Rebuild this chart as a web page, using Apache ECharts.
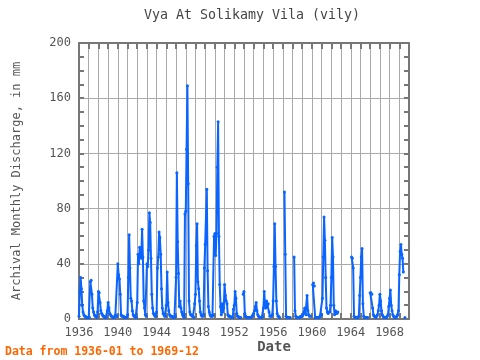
<!DOCTYPE html>
<html><head><meta charset="utf-8">
<script src="https://cdn.jsdelivr.net/npm/echarts@6/dist/echarts.min.js"></script>
<style>html,body{margin:0;padding:0;background:#fff}#c{width:480px;height:360px}</style>
</head><body><div id="c"></div>
<script>
const titleText = "Vya At Solikamy Vila (vily)";
const yAxisName = "Archival Monthly Discharge, in mm";
const xAxisName = "Date";
const footText = "Data from 1936-01 to 1969-12";
const startYear = 1936;
const xLabelYears = [1936, 1940, 1944, 1948, 1952, 1956, 1960, 1964, 1968];
const yTicks = [0, 40, 80, 120, 160, 200];
// monthly discharge (mm), Jan..Dec, one row per year; null = missing
const discharge = [
  2, 20, 30, 22, 10, 5, 3, 2, 2, 1, 1, 1,            // 1936
  1, 1, 27, 28, 18, 8, 5, 3, 2, 2, 1, 5,             // 1937
  20, 19, 12, 6, 4, 3, 2, 2, 1, 1, 1, 6,             // 1938
  12, 8, 4, 3, 2, 2, 1, 1, 1, 3, 2, 2,               // 1939
  40, 32, 29, 18, 3, 2, 2, 2, 1, 1, 1, 1,            // 1940
  3, 30, 61, 37, 15, 13, 6, 3, 2, 2, 1, 1,           // 1941
  12, 47, 40, 52, 46, 44, 65, 45, 13, 8, 3, 2,       // 1942
  40, 38, 50, 77, 70, 44, 18, 8, 4, 3, 2, 2,         // 1943
  5, 37, 45, 63, 59, 47, 22, 8, 4, 3, 2, 2,          // 1944
  10, 34, 12, 6, 3, 2, 2, 2, 1, 1, 1, 2,             // 1945
  30, 106, 56, 33, 9, 13, 8, 5, 3, 2, 1, 76,         // 1946
  78, 123, 169, 98, 13, 5, 3, 3, 2, 2, 1, 11,        // 1947
  18, 53, 69, 27, 22, 13, 5, 3, 2, 2, 3, 37,         // 1948
  54, 55, 94, 35, 9, 5, 3, 2, 2, 2, 3, 60,           // 1949
  62, 46, 62, 110, 143, 60, 25, 9, 3, 11, 5, 8,      // 1950
  25, 17, 13, 11, 3, 2, 2, 2, 1, 1, 1, 7,            // 1951
  10, 20, 15, 4, 2, 2, 1, 1, 1, null, null, 18,      // 1952
  20, 4, 2, 1, 1, 1, 1, 1, 1, 1, 2, 3,               // 1953
  4, 6, 9, 12, 6, 3, 2, 1, 1, 1, 1, 2,               // 1954
  8, 20, 11, 8, 13, 10, 11, 5, 2, 2, 2, 3,           // 1955
  13, 38, 69, 38, 13, 4, 2, 2, 1, null, null, null,  // 1956
  null, null, 92, 47, 2, 1, 1, 1, 1, 1, null, null,  // 1957
  null, null, 45, 6, 2, 1, 1, 1, 1, 1, 2, 2,         // 1958
  2, 3, 5, 8, 4, 3, 17, 6, 3, 2, 2, null,            // 1959
  null, 25, 26, 24, 1, 1, 1, 1, 1, 1, 2, 3,          // 1960
  3, 15, 45, 74, 57, 30, 8, 5, 4, 5, 5, 10,          // 1961
  30, 59, 45, 10, 3, 6, 5, 4, 5, null, null, null,   // 1962
  null, null, null, null, null, null, null, null, null, null, null, null, // 1963
  null, 45, 44, 37, 2, 1, 1, 1, 1, 1, 2, 17,         // 1964
  30, 45, 51, 11, 2, 1, 1, 1, 1, 1, null, null,      // 1965
  19, 19, 18, 8, 3, 2, 2, 1, 2, 3, 6, 10,            // 1966
  18, 13, 6, 3, 2, 1, 1, 1, 1, 2, 3, 9,              // 1967
  15, 21, 10, 6, 3, 2, 1, 1, 1, 2, 3, 6,             // 1968
  32, 49, 54, 47, 44, 34, null, 1, null, null, null, null // 1969
];

const seriesData = discharge.map((v, i) => [startYear + i / 12, v]);
const mono = "DejaVu Sans Mono";
const axisGray = '#777';
const gridGray = '#aaa';
const labelGray = '#555';

const chart = echarts.init(document.getElementById('c'), null, {renderer: 'canvas'});
const xBase = {
  type: 'value', min: 1936, max: 1970, interval: 1,
  axisLine: {show: true, onZero: false, lineStyle: {color: axisGray, width: 2}},
  axisTick: {show: true, inside: true, length: 6, lineStyle: {color: axisGray, width: 2}},
  minorTick: {show: false}
};
const yBase = {
  type: 'value', min: yTicks[0], max: yTicks[yTicks.length - 1], interval: yTicks[1] - yTicks[0],
  axisLine: {show: true, onZero: false, lineStyle: {color: axisGray, width: 2}},
  axisTick: {show: true, inside: true, length: 5, lineStyle: {color: axisGray, width: 2}},
  minorTick: {show: true, splitNumber: 4, length: 5, lineStyle: {color: axisGray, width: 2}}
};
chart.setOption({
  animation: false,
  backgroundColor: '#fff',
  grid: {left: 79, right: 71, top: 43, bottom: 41},
  xAxis: [
    Object.assign({}, xBase, {
      position: 'bottom',
      splitLine: {show: true, lineStyle: {color: gridGray, width: 1}},
      axisLabel: {
        color: labelGray, fontFamily: mono, fontSize: 12, margin: 8,
        formatter: v => xLabelYears.indexOf(v) >= 0 ? String(v) : ''
      }
    }),
    Object.assign({}, xBase, {position: 'top', splitLine: {show: false}, axisLabel: {show: false}})
  ],
  yAxis: [
    Object.assign({}, yBase, {
      position: 'left',
      splitLine: {show: true, lineStyle: {color: gridGray, width: 1}},
      axisLabel: {color: labelGray, fontFamily: mono, fontSize: 12, margin: 8},
      name: yAxisName, nameLocation: 'middle', nameGap: 56,
      nameTextStyle: {color: labelGray, fontFamily: mono, fontSize: 12}
    }),
    Object.assign({}, yBase, {position: 'right', splitLine: {show: false}, axisLabel: {show: false}})
  ],
  series: [{
    type: 'line', xAxisIndex: 0, yAxisIndex: 0,
    data: seriesData, connectNulls: false,
    showSymbol: true, symbol: 'circle', symbolSize: 3,
    lineStyle: {color: '#0a64ff', width: 2},
    itemStyle: {color: '#0a64ff'}
  }],
  graphic: [
    {type: 'text', x: 252, y: 16, style: {text: titleText, font: '13.3px "DejaVu Sans Mono"', fill: '#444', textAlign: 'center', textVerticalAlign: 'middle'}},
    {type: 'text', x: 274, y: 347, style: {text: xAxisName, font: 'bold 14px "DejaVu Sans Mono"', fill: labelGray, textAlign: 'center', textVerticalAlign: 'middle'}},
    {type: 'text', x: 5, y: 352, style: {text: footText, font: 'bold 11.5px "DejaVu Sans Mono"', fill: '#ff6600', textAlign: 'left', textVerticalAlign: 'middle'}}
  ]
});
</script></body></html>
